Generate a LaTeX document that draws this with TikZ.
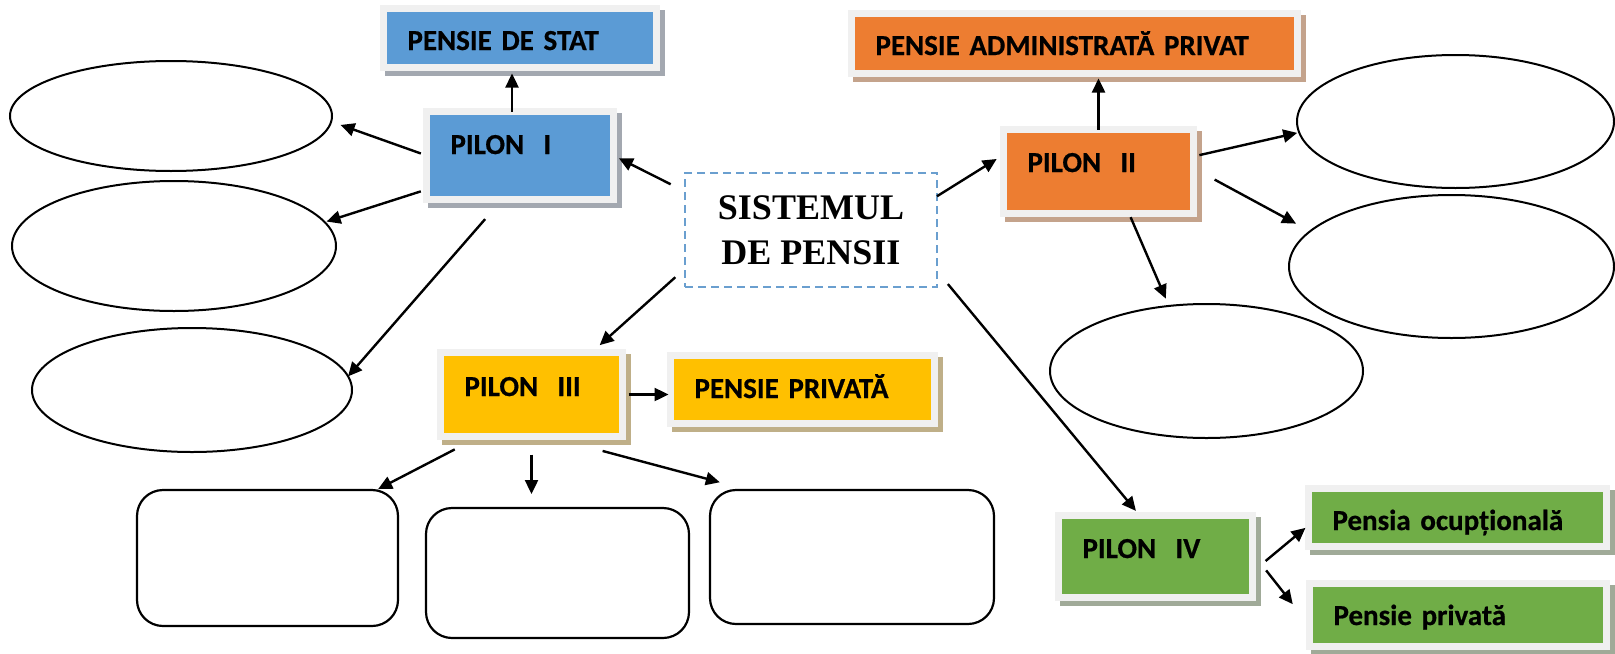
\documentclass[tikz,border=0pt]{standalone}
\usepackage{fontspec}
\newfontfamily\calib{Carlito}[BoldFeatures={FakeBold=0.6}]
\newfontfamily\timesf{Liberation Serif}
\usetikzlibrary{arrows.meta,shapes.geometric,shadows}

\definecolor{pblue}{HTML}{5B9BD5}
\definecolor{porange}{HTML}{ED7D31}
\definecolor{pgold}{HTML}{FFC000}
\definecolor{pgreen}{HTML}{70AD47}
\definecolor{pframe}{HTML}{F0F0F0}
\definecolor{sblue}{HTML}{A3A8B0}
\definecolor{sorange}{HTML}{C4A38C}
\definecolor{sgold}{HTML}{BFAF88}
\definecolor{sgreen}{HTML}{A0AA98}
\definecolor{pdash}{HTML}{6A9FCF}

\begin{document}
\begin{tikzpicture}[x=0.5pt, y=-0.5pt,
    tile/.style 2 args={draw=pframe, line width=3.5pt, fill=#1, anchor=north west,
        outer sep=0pt, inner xsep=12pt, inner ysep=0pt, align=left,
        font=\calib\bfseries\fontsize{14.5}{17}\selectfont,
        drop shadow={shadow xshift=2.5pt, shadow yshift=-2.5pt, fill=#2, draw=#2,
            line width=3.5pt, opacity=1}},
    oval/.style={ellipse, draw, line width=1pt, inner sep=0pt, outer sep=0pt},
    slot/.style={rectangle, rounded corners=13pt, draw, line width=1.1pt,
        inner sep=0pt, outer sep=0pt},
    arr/.style={-{Triangle[length=7pt,width=6.5pt]}, line width=1.2pt}]
    \useasboundingbox (0,0) rectangle (1615,653);

    % centre
    \node[draw=pdash, dash pattern=on 4pt off 2.5pt, line width=1pt, outer sep=0pt,
        minimum width=126pt, minimum height=57pt, align=center,
        font=\timesf\bfseries\fontsize{18}{22.5}\selectfont] (sis) at (811,230) {SISTEMUL\\DE PENSII};

    % pilon I
    \node[tile={pblue}{sblue}, text width=112.5pt, text height=20.75pt, text depth=8.75pt] (pstat) at (383.5,8.5) {PENSIE DE STAT};
    \node[tile={pblue}{sblue}, text width=69.5pt, text height=21.25pt, text depth=22.75pt] (p1) at (426.5,111.5) {PILON\ \ I};
    \node[oval, minimum width=161pt, minimum height=55pt] (e1) at (171,116) {};
    \node[oval, minimum width=162pt, minimum height=65pt] (e2) at (174,246) {};
    \node[oval, minimum width=160pt, minimum height=62pt] (e3) at (192,390) {};

    % pilon II
    \node[tile={porange}{sorange}, text width=199pt, text height=20.75pt, text depth=9.25pt] (padm) at (851.5,13.5) {PENSIE ADMINISTRATĂ PRIVAT};
    \node[tile={porange}{sorange}, text width=71pt, text height=21.25pt, text depth=20.75pt] (p2) at (1003.5,129.5) {PILON\ \ II};
    \node[oval, minimum width=158.5pt, minimum height=66.5pt] (re1) at (1455.5,121.5) {};
    \node[oval, minimum width=162.5pt, minimum height=71.5pt] (re2) at (1451.5,266.5) {};
    \node[oval, minimum width=156.5pt, minimum height=67pt] (re3) at (1206.5,371) {};

    % pilon III
    \node[tile={pgold}{sgold}, text width=67pt, text height=21.75pt, text depth=20.25pt] (p3) at (440.5,352.5) {PILON\ \ III};
    \node[tile={pgold}{sgold}, text width=108pt, text height=21.25pt, text depth=12.75pt] (pp) at (670.5,355.5) {PENSIE PRIVATĂ};
    \node[slot, minimum width=130.5pt, minimum height=68pt] (rr1) at (267.5,558) {};
    \node[slot, minimum width=131.5pt, minimum height=65pt] (rr2) at (557.5,573) {};
    \node[slot, minimum width=142pt, minimum height=67pt] (rr3) at (852,557) {};

    % pilon IV
    \node[tile={pgreen}{sgreen}, text width=73pt, text height=21.25pt, text depth=19.75pt] (p4) at (1058.5,515.5) {PILON\ \ IV};
    \node[tile={pgreen}{sgreen}, text width=125pt, text height=20.75pt, text depth=8.25pt] (pocup) at (1308.5,488.5) {Pensia ocupțională};
    \node[tile={pgreen}{sgreen}, text width=124.5pt, text height=20.75pt, text depth=10.75pt] (ppriv) at (1309.5,583.5) {Pensie privată};

    % arrows
    \draw[arr, shorten <=8pt, shorten >=3pt] (sis.163) -- (p1.east);
    \draw[arr, shorten >=4pt] (sis.15) -- (p2.170);
    \draw[arr, shorten <=6.5pt, shorten >=5.5pt] (sis.197) -- (p3.35);
    \draw[arr, shorten <=8.5pt, shorten >=3pt] (sis.-18) -- (p4.111);

    \draw[arr, shorten >=3pt] ([xshift=-4pt]p1.north) -- ([xshift=-4pt]pstat.south);
    \draw[arr, shorten <=3pt, shorten >=5pt] (p1.west) -- (e1.-2);
    \draw[arr, shorten <=3pt, shorten >=1pt] (p1.200) -- (e2.9);
    \draw[arr, shorten <=13pt] (p1.248) -- (e3.5);

    \draw[arr, shorten >=2.5pt] (p2.north) -- (p2.north |- padm.south);
    \draw[arr, shorten <=3pt, shorten >=1pt] (p2.9) -- (re1.184);
    \draw[arr, shorten <=12pt, shorten >=8pt] (p2.2) -- (re2.166);
    \draw[arr, shorten <=2pt, shorten >=4pt] (p2.-54) -- (re3.120);

    \draw[arr, shorten <=3pt, shorten >=1pt] (p3.east) -- (p3.east -| pp.west);
    \draw[arr, shorten <=14pt, shorten >=1pt] (p3.219) -- (rr1.32);
    \draw[arr, shorten <=9pt, shorten >=7pt] (p3.south) -- (p3.south |- rr2.north);
    \draw[arr, shorten <=28pt, shorten >=15pt] (p3.292) -- (rr3.147);

    \draw[arr, shorten <=8.5pt, shorten >=2pt] (p4.-9) -- (pocup.183);
    \draw[arr, shorten <=11pt, shorten >=13.5pt] (p4.2) -- (ppriv.184);
\end{tikzpicture}
\end{document}
